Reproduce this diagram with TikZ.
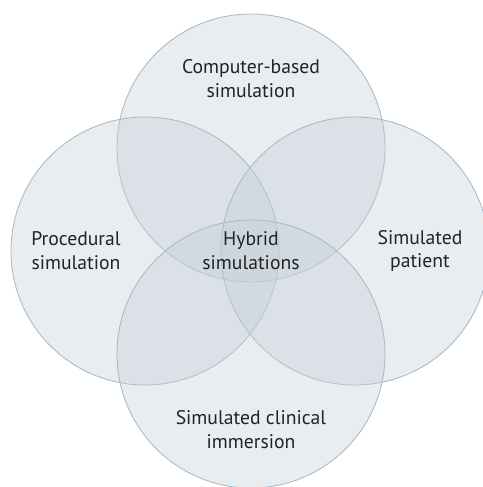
\documentclass[tikz,border=0pt]{standalone}
\usepackage{fontspec}
\setmainfont{PT Sans}
\usepackage{xcolor}
\definecolor{vennfill}{RGB}{196,207,215}
\definecolor{vennline}{RGB}{165,186,200}
\definecolor{venntext}{RGB}{35,35,35}

\begin{document}
\begin{tikzpicture}[
	venn/.style={circle,draw=vennline,line width=0.6pt,fill=vennfill,fill opacity=0.38,draw opacity=1,minimum size=6.7cm,inner sep=0pt},
	lbl/.style={align=center,text=venntext,font=\fontsize{14}{17}\selectfont}]
	\useasboundingbox (-6.275,-5.9) rectangle (5.8,6.275);

	\node[venn] (top) at (0,2.575) {};
	\node[venn] (left) at (-2.65,0) {};
	\node[venn] (right) at (2.6,0) {};
	\node[venn] (bottom) at (0,-2.575) {};

	\node[lbl] (computer) at (0,4.3) {Computer-based\\simulation};
	\node[lbl] (procedural) at (-4.375,0) {Procedural\\simulation};
	\node[lbl] (patient) at (4.225,0) {Simulated\\patient};
	\node[lbl] (hybrid) at (0,0) {Hybrid\\simulations};
	\node[lbl] (immersion) at (0,-4.475) {Simulated clinical\\immersion};
\end{tikzpicture}
\end{document}
